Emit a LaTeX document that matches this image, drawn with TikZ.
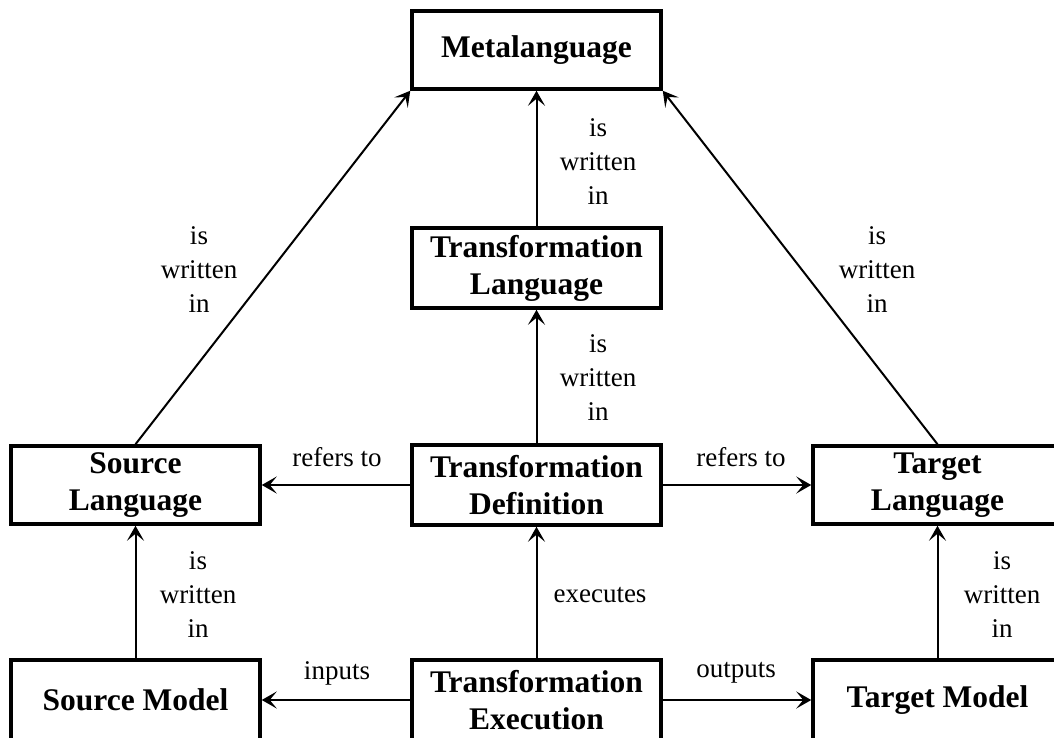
\documentclass[tikz,border=0pt]{standalone}
\usepackage{fontspec}
\setmainfont{Liberation Serif}
\usetikzlibrary{arrows.meta}
\begin{document}
\begin{tikzpicture}[x=1pt,y=-1pt,
  box/.style={draw,line width=3.5pt,minimum width=249pt,minimum height=78pt,inner sep=0pt,align=center,font=\fontsize{31.5}{37}\selectfont\bfseries},
  conn/.style={line width=2pt,-{Stealth[length=15pt,width=17pt,inset=7pt]}},
  lbl/.style={align=center,inner sep=0pt,font=\fontsize{27}{34}\selectfont}]
\useasboundingbox (0,0) rectangle (1054,738);
\node[box] (meta) at (536.5,50) {Metalanguage};
\node[box,minimum height=80pt] (tl) at (536.5,268) {Transformation\\Language};
\node[box] (sl) at (135.5,485) {Source\\Language};
\node[box,minimum height=80pt] (td) at (536.5,485) {Transformation\\Definition};
\node[box] (tgl) at (937.5,485) {Target\\Language};
\node[box,minimum height=80pt] (sm) at (135.5,700) {Source Model};
\node[box,minimum height=80pt] (te) at (536.5,700) {Transformation\\Execution};
\node[box,minimum height=80pt] (tgm) at (937.5,700) {Target Model};
\draw[conn] (tl.north) -- (meta.south);
\draw[conn] (td.north) -- (tl.south);
\draw[conn] (sl.north) -- (meta.south west);
\draw[conn] (tgl.north) -- (meta.south east);
\draw[conn] (td.west) -- (sl.east);
\draw[conn] (td.east) -- (tgl.west);
\draw[conn] (sm.north) -- (sl.south);
\draw[conn] (tgm.north) -- (tgl.south);
\draw[conn] (te.north) -- (td.south);
\draw[conn] (te.west) -- (sm.east);
\draw[conn] (te.east) -- (tgm.west);
\node[lbl] (l1) at (598,162) {is\\written\\in};
\node[lbl] (l2) at (598,378) {is\\written\\in};
\node[lbl] (l3) at (199,270) {is\\written\\in};
\node[lbl] (l4) at (877,270) {is\\written\\in};
\node[lbl] (l5) at (198,595) {is\\written\\in};
\node[lbl] (l6) at (1002,595) {is\\written\\in};
\node[lbl] (l7) at (337,457) {refers to};
\node[lbl] (l8) at (741,457) {refers to};
\node[lbl] (l9) at (337,673) {inputs};
\node[lbl] (l10) at (736,673) {outputs};
\node[lbl] (l11) at (600,595) {executes};
\end{tikzpicture}
\end{document}
